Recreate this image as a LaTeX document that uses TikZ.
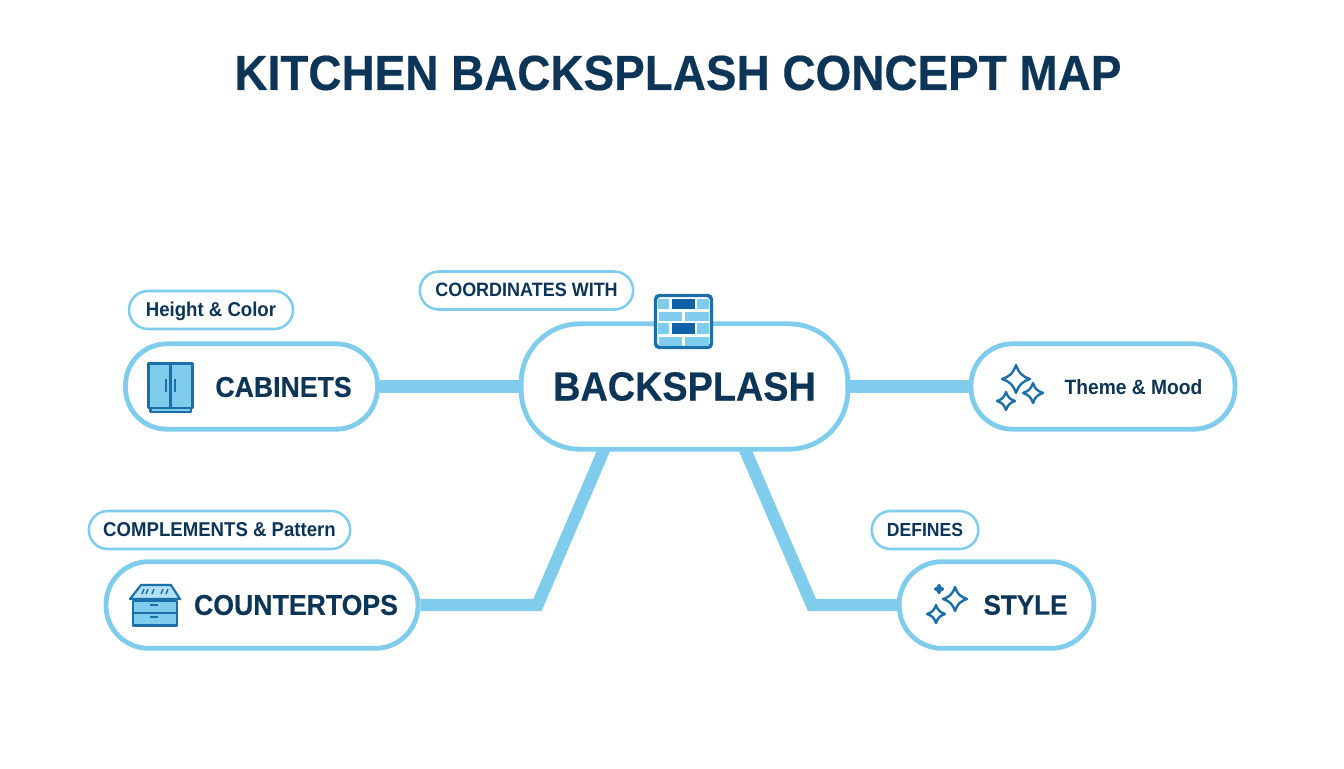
\documentclass[tikz,border=0pt]{standalone}
\usepackage{fontspec}
\setmainfont[FakeStretch=0.93,BoldFeatures={FakeBold=0.35}]{Liberation Sans}
\newfontfamily\tagfont[FakeStretch=0.93]{Liberation Sans}
\usetikzlibrary{backgrounds}
\definecolor{linkblue}{HTML}{7FCCEC}
\definecolor{navy}{HTML}{0D3557}
\definecolor{iconblue}{HTML}{1C6FA8}
\definecolor{brickdark}{HTML}{0F62A8}
\tikzset{
  box/.style={draw=linkblue,line width=3.6pt,fill=white,text=navy,font=\bfseries,inner sep=0pt},
  tag/.style={draw=linkblue,line width=1.9pt,fill=white,text=navy,font=\tagfont\bfseries\fontsize{14.5}{16}\selectfont,inner sep=0pt,minimum height=28.5pt,rounded corners=14.2pt,text height=10.5pt,text depth=1pt},
  link/.style={draw=linkblue,line width=9.2pt,line join=miter},
  iconline/.style={draw=iconblue,line width=1.6pt,line join=round}
}
\newcommand{\sparkle}[4]{
  \draw[iconline,line width=1.8pt,fill=#4] (#1,#2-#3) .. controls (#1+0.2*#3,#2-0.42*#3) and (#1+0.42*#3,#2-0.2*#3) .. (#1+#3,#2)
    .. controls (#1+0.42*#3,#2+0.2*#3) and (#1+0.2*#3,#2+0.42*#3) .. (#1,#2+#3)
    .. controls (#1-0.2*#3,#2+0.42*#3) and (#1-0.42*#3,#2+0.2*#3) .. (#1-#3,#2)
    .. controls (#1-0.42*#3,#2-0.2*#3) and (#1-0.2*#3,#2-0.42*#3) .. (#1,#2-#3) -- cycle;
}
\begin{document}
\begin{tikzpicture}[x=0.75pt,y=-0.75pt]
  \useasboundingbox (0,0) rectangle (1344,768);
  \node[text=navy,font=\bfseries\fontsize{37}{44}\selectfont] (title) at (678,73) {KITCHEN BACKSPLASH CONCEPT MAP};

  \node[box,minimum width=245pt,minimum height=94pt,rounded corners=44pt,font=\bfseries\fontsize{30.5}{36}\selectfont] (backsplash) at (684.5,386.5) {BACKSPLASH};
  \node[box,minimum width=189pt,minimum height=64pt,rounded corners=31pt] (cabinets) at (251.5,386.5) {};
  \node[box,minimum width=198pt,minimum height=64pt,rounded corners=31pt] (theme) at (1103,386.5) {};
  \node[box,minimum width=234pt,minimum height=65pt,rounded corners=32pt] (countertops) at (262,605) {};
  \node[box,minimum width=146pt,minimum height=65pt,rounded corners=32pt] (style) at (996.5,605) {};

  \node[text=navy,font=\bfseries\fontsize{21.5}{24}\selectfont] (cabinetstext) at (283.5,387) {CABINETS};
  \node[text=navy,font=\tagfont\bfseries\fontsize{15.5}{18}\selectfont] (themetext) at (1133.5,387.5) {Theme \& Mood};
  \node[text=navy,font=\bfseries\fontsize{21.5}{24}\selectfont] (counterstext) at (296,605) {COUNTERTOPS};
  \node[text=navy,font=\bfseries\fontsize{21}{24}\selectfont] (styletext) at (1025.5,605) {STYLE};

  \node[tag,minimum width=123pt,font=\tagfont\bfseries\fontsize{15}{16}\selectfont] (height) at (211,310) {Height \& Color};
  \node[tag,minimum width=160pt] (coordinates) at (526.5,290.5) {COORDINATES WITH};
  \node[tag,minimum width=196pt,font=\tagfont\bfseries\fontsize{15}{16}\selectfont] (complements) at (219.5,530) {COMPLEMENTS \& Pattern};
  \node[tag,minimum width=80pt,font=\tagfont\bfseries\fontsize{14.2}{16}\selectfont] (defines) at (925,530) {DEFINES};

  \coordinate (bendleft) at (537.5,605);
  \coordinate (bendright) at (812,605);
  \coordinate (footleft) at (606,445);
  \coordinate (footright) at (743,445);
  \begin{scope}[on background layer]
    \draw[link] (cabinets) -- (backsplash);
    \draw[link] (backsplash) -- (theme);
    \draw[link] (countertops) -- (bendleft) -- (footleft);
    \draw[link] (style) -- (bendright) -- (footright);
  \end{scope}

  % brick icon
  \draw[draw=iconblue,line width=2.6pt,fill=white,rounded corners=3pt] (655.5,295.5) rectangle (711.5,347.5);
  \foreach \y/\h in {299/10,323/11} {
    \fill[linkblue] (658,\y) rectangle (669,\y+\h);
    \fill[brickdark] (672,\y) rectangle (695,\y+\h);
    \fill[linkblue] (697,\y) rectangle (709,\y+\h);
  }
  \foreach \y/\h in {312/9,337/9} {
    \fill[linkblue] (659,\y) rectangle (682,\y+\h);
    \fill[linkblue] (685,\y) rectangle (709,\y+\h);
  }

  % cabinet icon
  \draw[iconline,fill=linkblue] (150.5,408) rectangle (191,412);
  \draw[iconline,fill=linkblue] (148.5,363.5) rectangle (192.5,408);
  \draw[iconline] (170.5,363.5) -- (170.5,408);
  \draw[iconline] (166,379) -- (166,392);
  \draw[iconline] (175,379) -- (175,392);

  % counter icon
  \draw[iconline,fill=linkblue!60] (130,599) -- (141,585) -- (171,585) -- (180,599) -- cycle;
  \draw[iconline,fill=linkblue] (133,601) rectangle (177,625.5);
  \draw[iconline] (133,613) -- (177,613);
  \draw[iconline] (150,605) -- (158,605);
  \draw[iconline] (150,617) -- (158,617);
  \foreach \x in {142,146,152,161,166}
    \draw[iconline,line width=1.1pt] (\x,594) -- (\x+2,589);

  % sparkles
  \sparkle{1016}{379}{14}{white}
  \sparkle{1033}{393}{10}{white}
  \sparkle{1006}{401}{9}{white}
  \sparkle{955}{599}{12}{white}
  \sparkle{936}{614}{9}{white}
  \sparkle{939}{589}{4}{iconblue}
\end{tikzpicture}
\end{document}
